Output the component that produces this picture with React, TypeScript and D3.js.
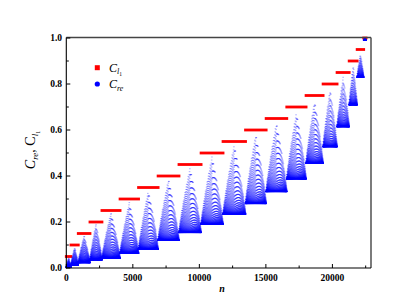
import React, { useEffect, useRef } from "react";
import * as d3 from "d3";

// C_l1 level of each block, and the n where each block starts/ends
const levels = [0.05, 0.1, 0.15, 0.2, 0.25, 0.3, 0.35, 0.4, 0.45, 0.5, 0.55, 0.6, 0.65, 0.7, 0.75, 0.8, 0.85, 0.9, 0.95, 1.0];
const blockEdges = [0, 350, 900, 1780, 2680, 4040, 5430, 6900, 8470, 10130, 11780, 13470, 15020, 16570, 18020, 19300, 20350, 21260, 21860, 22350, 22530];
// lowest and highest C_re read in each block
const blockFloor = [0.003, 0.013, 0.023, 0.035, 0.042, 0.064, 0.081, 0.12, 0.154, 0.19, 0.234, 0.28, 0.332, 0.387, 0.455, 0.527, 0.614, 0.709, 0.829, 0.99];
const blockPeak = [0.045, 0.09, 0.14, 0.19, 0.24, 0.285, 0.335, 0.385, 0.435, 0.485, 0.535, 0.58, 0.63, 0.675, 0.725, 0.775, 0.83, 0.88, 0.93, 1.0];

const xTicks = [0, 5000, 10000, 15000, 20000];
const xMinor = [2500, 7500, 12500, 17500, 22500];
const yTicks = [0, 0.2, 0.4, 0.6, 0.8, 1.0];
const yMinor = [0.1, 0.3, 0.5, 0.7, 0.9];

const W = 407;
const H = 305;
const SERIF = "'Liberation Serif', 'Times New Roman', serif";

// lay out the C_re points of one block between its read floor and peak
const blockPoints = (k: number) => {
  const s = blockEdges[k];
  const e = blockEdges[k + 1];
  const pts: [number, number][] = [];
  const cycle = 120;
  for (let n = s; n < e; n++) {
    const t = (n - s) / (e - s);
    const env = blockFloor[k] + (blockPeak[k] - blockFloor[k]) * Math.pow(1 - Math.abs(2 * t - 1), 0.8);
    const i = ((n - s) * 47) % cycle;
    const h = Math.pow(i / (cycle - 1), 2.8);
    pts.push([n, blockFloor[k] + (env - blockFloor[k]) * h]);
  }
  return pts;
};

export default function App() {
  const ref = useRef<SVGSVGElement | null>(null);

  useEffect(() => {
    const svg = d3.select(ref.current);
    svg.selectAll("*").remove();

    const x = d3.scaleLinear().domain([0, 22900]).range([66.3, 371]);
    const y = d3.scaleLinear().domain([0, 1]).range([268, 38]);

    // red C_l1 dashes
    svg
      .append("g")
      .selectAll("line")
      .data(levels)
      .join("line")
      .attr("x1", (d, i) => x(blockEdges[i]))
      .attr("x2", (d, i) => x(blockEdges[i + 1]))
      .attr("y1", (d) => y(d))
      .attr("y2", (d) => y(d))
      .attr("stroke", "#ff0000")
      .attr("stroke-width", 2.8)
      .attr("stroke-linecap", "square");

    // blue C_re points
    const pts = levels.flatMap((_, k) => blockPoints(k));
    svg
      .append("g")
      .attr("fill", "#0000ff")
      .attr("fill-opacity", 0.32)
      .selectAll("rect")
      .data(pts)
      .join("rect")
      .attr("x", (d) => x(d[0]) - 0.8)
      .attr("y", (d) => y(d[1]) - 0.5)
      .attr("width", 1.6)
      .attr("height", 1.0);

    // frame
    svg.append("line").attr("x1", 66.3).attr("x2", 371).attr("y1", 37.5).attr("y2", 37.5).attr("stroke", "#444").attr("stroke-width", 1.4);
    svg.append("line").attr("x1", 371).attr("x2", 371).attr("y1", 37.5).attr("y2", 268).attr("stroke", "#444").attr("stroke-width", 1.4);
    svg.append("line").attr("x1", 66.3).attr("x2", 66.3).attr("y1", 37.5).attr("y2", 268.5).attr("stroke", "#000").attr("stroke-width", 1.1);
    svg.append("line").attr("x1", 66).attr("x2", 371).attr("y1", 268).attr("y2", 268).attr("stroke", "#000").attr("stroke-width", 1.1);

    const ax = svg.append("g").attr("stroke", "#000").attr("stroke-width", 1);
    ax.selectAll(".xt")
      .data(xTicks)
      .join("line")
      .attr("x1", (d) => x(d))
      .attr("x2", (d) => x(d))
      .attr("y1", 268)
      .attr("y2", 264);
    ax.selectAll(".xm")
      .data(xMinor)
      .join("line")
      .attr("x1", (d) => x(d))
      .attr("x2", (d) => x(d))
      .attr("y1", 268)
      .attr("y2", 265.5);
    ax.selectAll(".yt")
      .data(yTicks)
      .join("line")
      .attr("x1", 66.3)
      .attr("x2", 70.3)
      .attr("y1", (d) => y(d))
      .attr("y2", (d) => y(d));
    ax.selectAll(".ym")
      .data(yMinor)
      .join("line")
      .attr("x1", 66.3)
      .attr("x2", 68.8)
      .attr("y1", (d) => y(d))
      .attr("y2", (d) => y(d));

    svg
      .append("g")
      .selectAll("text")
      .data(xTicks)
      .join("text")
      .attr("x", (d) => x(d))
      .attr("y", 281)
      .attr("text-anchor", "middle")
      .style("font-family", SERIF)
      .style("font-weight", "bold")
      .style("font-size", "9.5px")
      .text((d) => d);

    svg
      .append("g")
      .selectAll("text")
      .data(yTicks)
      .join("text")
      .attr("x", 62)
      .attr("y", (d) => y(d) + 3.3)
      .attr("text-anchor", "end")
      .style("font-family", SERIF)
      .style("font-weight", "bold")
      .style("font-size", "9.5px")
      .text((d) => d.toFixed(1));

    // axis titles
    svg
      .append("text")
      .attr("x", 222)
      .attr("y", 292)
      .attr("text-anchor", "middle")
      .style("font-family", SERIF)
      .style("font-weight", "bold")
      .style("font-style", "italic")
      .style("font-size", "10px")
      .text("n");

    const yt = svg
      .append("text")
      .attr("transform", "translate(35,150) rotate(-90)")
      .attr("text-anchor", "middle")
      .style("font-family", SERIF)
      .style("font-style", "italic")
      .style("font-size", "14px");
    yt.append("tspan").text("C");
    yt.append("tspan").attr("dy", 3).style("font-size", "9px").text("re");
    yt.append("tspan").attr("dy", -3).style("font-style", "normal").text(", C");
    yt.append("tspan").attr("dy", 3).style("font-size", "9px").text("l");
    yt.append("tspan").attr("dy", 2).style("font-size", "6px").style("font-style", "normal").text("1");

    // legend
    const lg = svg.append("g");
    lg.append("rect").attr("x", 94.8).attr("y", 65.2).attr("width", 5).attr("height", 5).attr("fill", "#ff0000");
    lg.append("circle").attr("cx", 97.3).attr("cy", 84).attr("r", 2.6).attr("fill", "#0000ff");
    const l1 = lg
      .append("text")
      .attr("x", 109)
      .attr("y", 71.5)
      .style("font-family", SERIF)
      .style("font-style", "italic")
      .style("font-size", "12px");
    l1.append("tspan").text("C");
    l1.append("tspan").attr("dy", 2.5).style("font-size", "8px").text("l");
    l1.append("tspan").attr("dy", 1.5).style("font-size", "5.5px").style("font-style", "normal").text("1");
    const l2 = lg
      .append("text")
      .attr("x", 109)
      .attr("y", 88)
      .style("font-family", SERIF)
      .style("font-style", "italic")
      .style("font-size", "12px");
    l2.append("tspan").text("C");
    l2.append("tspan").attr("dy", 2.5).style("font-size", "8px").text("re");
  }, []);

  return (
    <svg ref={ref} width={W} height={H} style={{ position: "absolute", left: 0, top: 0, background: "#fff" }} />
  );
}
